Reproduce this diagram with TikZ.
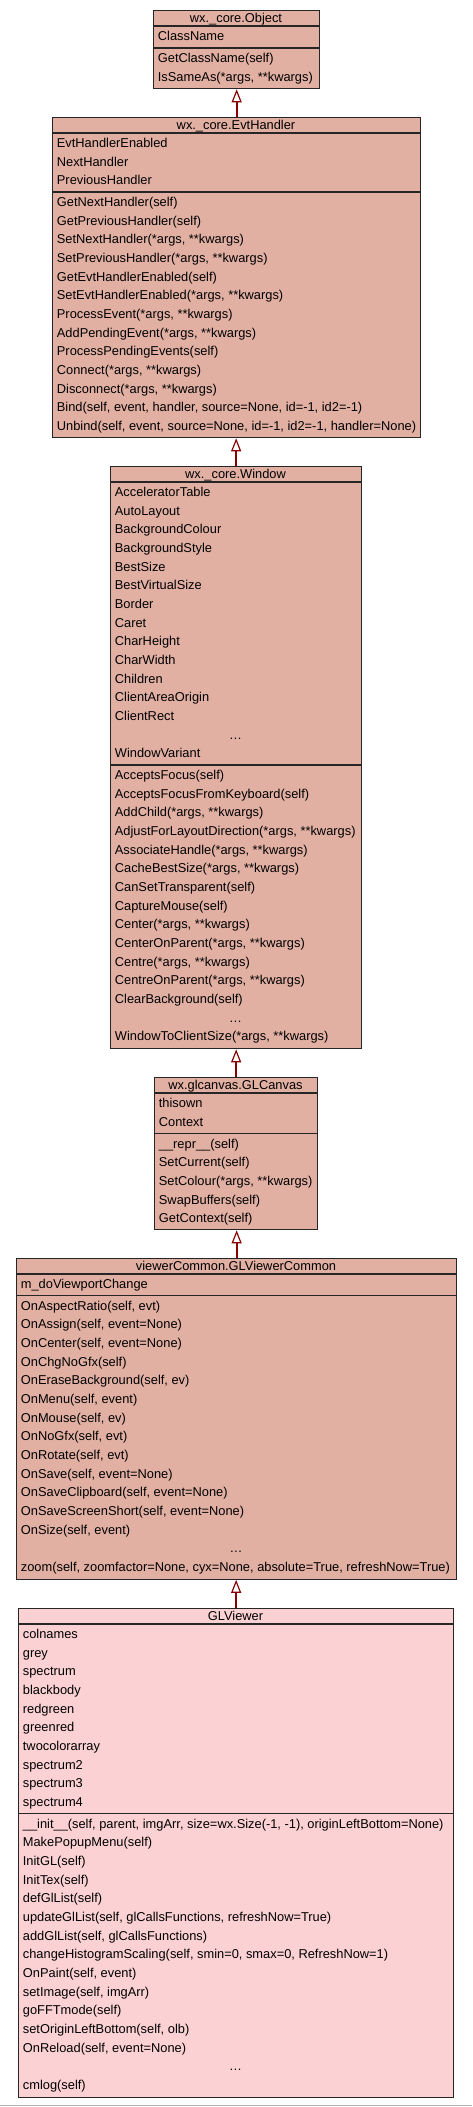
\documentclass[tikz,border=0pt]{standalone}
\usepackage{xcolor}
\usepackage{fontspec}
\setmainfont{Liberation Sans}
\usepackage{tikz}
\usetikzlibrary{calc}
\usetikzlibrary{arrows.meta}

\definecolor{parentfill}{HTML}{E1B0A3}
\definecolor{leaffill}{HTML}{FBD1D3}
\definecolor{boxline}{HTML}{262626}
\definecolor{arrowred}{HTML}{8B0000}

\tikzset{
	classbox/.style={rectangle,draw=boxline,line width=1.3pt,fill=parentfill,inner sep=0pt,anchor=north west},
	sepline/.style={draw=boxline,line width=1.3pt},
	row/.style={anchor=base west,inner sep=0pt},
	title/.style={anchor=base,inner sep=0pt},
	inherit/.style={draw=arrowred,line width=2pt,-{Triangle[length=13pt,width=10pt,fill=white,line width=1.2pt]}},
}

\begin{document}
\begin{tikzpicture}[x=1pt,y=-1pt,font=\fontsize{12.85}{15}\selectfont]
	% page, y runs downwards
	\fill[white] (0,0) rectangle (472,2107);
	\useasboundingbox (0,0) rectangle (472,2107);
	\draw[color=gray!60] (0,2105.5) -- (472,2105.5);% bottom rule
	% wx._core.Object
	\node[classbox,minimum width=166pt,minimum height=78pt] (object) at (153,10) {};
	\draw[sepline] (153,26) -- (319,26);
	\draw[sepline] (153,48) -- (319,48);
	\node[title] (object-t) at (236,22.5) {wx.\_core.Object};
	\node[row] (object-a0) at (157.7,{26+14.5}) {ClassName};
	\foreach \txt [count=\i from 0] in {GetClassName(self),{IsSameAs(*args, **kwargs)}}
		\node[row] (object-m\i) at (157.7,{48+14.5+\i*18.67}) {\txt};
	% wx._core.EvtHandler
	\node[classbox,minimum width=368pt,minimum height=320pt] (evthandler) at (52,117) {};
	\draw[sepline] (52,133) -- (420,133);
	\draw[sepline] (52,192) -- (420,192);
	\node[title] (evthandler-t) at (236,{117+12.5}) {wx.\_core.EvtHandler};
	\foreach \txt [count=\i from 0] in {EvtHandlerEnabled,NextHandler,PreviousHandler}
		\node[row] (evthandler-a\i) at (56.7,{133+14.5+\i*18.67}) {\txt};
	\foreach \txt [count=\i from 0] in {GetNextHandler(self),GetPreviousHandler(self),
		{SetNextHandler(*args, **kwargs)},{SetPreviousHandler(*args, **kwargs)},
		GetEvtHandlerEnabled(self),{SetEvtHandlerEnabled(*args, **kwargs)},
		{ProcessEvent(*args, **kwargs)},{AddPendingEvent(*args, **kwargs)},
		ProcessPendingEvents(self),{Connect(*args, **kwargs)},{Disconnect(*args, **kwargs)},
		{Bind(self, event, handler, source=None, id=-1, id2=-1)},
		{Unbind(self, event, source=None, id=-1, id2=-1, handler=None)}}
		\node[row] (evthandler-m\i) at (56.7,{192+14.5+\i*18.67}) {\txt};
	% wx._core.Window
	\node[classbox,minimum width=251pt,minimum height=582pt] (window) at (110,466) {};
	\draw[sepline] (110,482) -- (361,482);
	\draw[sepline] (110,765) -- (361,765);
	\node[title] (window-t) at (235.5,{466+12.5}) {wx.\_core.Window};
	\foreach \txt [count=\i from 0] in {AcceleratorTable,AutoLayout,BackgroundColour,
		BackgroundStyle,BestSize,BestVirtualSize,Border,Caret,CharHeight,CharWidth,
		Children,ClientAreaOrigin,ClientRect}
		\node[row] (window-a\i) at (114.7,{482+14.5+\i*18.67}) {\txt};
	\node[title] (window-adots) at (235.5,{482+14.5+13*18.67}) {\dots};
	\node[row] (window-a14) at (114.7,{482+14.5+14*18.67}) {WindowVariant};
	\foreach \txt [count=\i from 0] in {AcceptsFocus(self),AcceptsFocusFromKeyboard(self),
		{AddChild(*args, **kwargs)},{AdjustForLayoutDirection(*args, **kwargs)},
		{AssociateHandle(*args, **kwargs)},{CacheBestSize(*args, **kwargs)},
		CanSetTransparent(self),CaptureMouse(self),{Center(*args, **kwargs)},
		{CenterOnParent(*args, **kwargs)},{Centre(*args, **kwargs)},
		{CentreOnParent(*args, **kwargs)},ClearBackground(self)}
		\node[row] (window-m\i) at (114.7,{765+14.5+\i*18.67}) {\txt};
	\node[title] (window-mdots) at (235.5,{765+14.5+13*18.67}) {\dots};
	\node[row] (window-m14) at (114.7,{765+14.5+14*18.67}) {WindowToClientSize(*args, **kwargs)};
	% wx.glcanvas.GLCanvas
	\node[classbox,minimum width=163pt,minimum height=152pt] (glcanvas) at (154,1077) {};
	\draw[sepline] (154,1093) -- (317,1093);
	\draw[sepline] (154,1133.5) -- (317,1133.5);
	\node[title] (glcanvas-t) at (235.5,{1077+12.5}) {wx.glcanvas.GLCanvas};
	\foreach \txt [count=\i from 0] in {thisown,Context}
		\node[row] (glcanvas-a\i) at (158.7,{1093+14.5+\i*18.67}) {\txt};
	\foreach \txt [count=\i from 0] in {\_\_repr\_\_(self),SetCurrent(self),
		{SetColour(*args, **kwargs)},SwapBuffers(self),GetContext(self)}
		\node[row] (glcanvas-m\i) at (158.7,{1133.5+14.5+\i*18.67}) {\txt};
	% viewerCommon.GLViewerCommon
	\node[classbox,minimum width=440pt,minimum height=320.5pt] (common) at (16,1258) {};
	\draw[sepline] (16,1274) -- (456,1274);
	\draw[sepline] (16,1295.5) -- (456,1295.5);
	\node[title] (common-t) at (236,{1258+12.5}) {viewerCommon.GLViewerCommon};
	\node[row] (common-a0) at (20.7,{1274+14.5}) {m\_doViewportChange};
	\foreach \txt [count=\i from 0] in {{OnAspectRatio(self, evt)},{OnAssign(self, event=None)},
		{OnCenter(self, event=None)},OnChgNoGfx(self),{OnEraseBackground(self, ev)},
		{OnMenu(self, event)},{OnMouse(self, ev)},{OnNoGfx(self, evt)},{OnRotate(self, evt)},
		{OnSave(self, event=None)},{OnSaveClipboard(self, event=None)},
		{OnSaveScreenShort(self, event=None)},{OnSize(self, event)}}
		\node[row] (common-m\i) at (20.7,{1295.5+14.5+\i*18.67}) {\txt};
	\node[title] (common-mdots) at (236,{1295.5+14.5+13*18.67}) {\dots};
	\node[row] (common-m14) at (20.7,{1295.5+14.5+14*18.67}) {zoom(self, zoomfactor=None, cyx=None, absolute=True, refreshNow=True)};
	% GLViewer
	\node[classbox,fill=leaffill,minimum width=435pt,minimum height=489pt] (glviewer) at (18,1608) {};
	\draw[sepline] (18,1624) -- (453,1624);
	\draw[sepline] (18,1813.7) -- (453,1813.7);
	\node[title] (glviewer-t) at (235.5,{1608+12.5}) {GLViewer};
	\foreach \txt [count=\i from 0] in {colnames,grey,spectrum,blackbody,redgreen,greenred,
		twocolorarray,spectrum2,spectrum3,spectrum4}
		\node[row] (glviewer-a\i) at (22.7,{1624+14.5+\i*18.67}) {\txt};
	\foreach \txt [count=\i from 0] in {{\_\_init\_\_(self, parent, imgArr, size=wx.Size(-1, -1), originLeftBottom=None)},
		MakePopupMenu(self),InitGL(self),InitTex(self),defGlList(self),
		{updateGlList(self, glCallsFunctions, refreshNow=True)},{addGlList(self, glCallsFunctions)},
		{changeHistogramScaling(self, smin=0, smax=0, RefreshNow=1)},{OnPaint(self, event)},
		{setImage(self, imgArr)},goFFTmode(self),{setOriginLeftBottom(self, olb)},
		{OnReload(self, event=None)}}
		\node[row] (glviewer-m\i) at (22.7,{1813.7+14.5+\i*18.67}) {\txt};
	\node[title] (glviewer-mdots) at (235.5,{1813.7+14.5+13*18.67}) {\dots};
	\node[row] (glviewer-m14) at (22.7,{1813.7+14.5+14*18.67}) {cmlog(self)};
	% inheritance arrows, child to parent
	\draw[inherit] (evthandler.north) -- (evthandler.north |- object.south);
	\draw[inherit] (window.north) -- (window.north |- evthandler.south);
	\draw[inherit] (glcanvas.north) -- (glcanvas.north |- window.south);
	\draw[inherit] (common.north) -- (common.north |- glcanvas.south);
	\draw[inherit] (glviewer.north) -- (glviewer.north |- common.south);
\end{tikzpicture}
\end{document}
